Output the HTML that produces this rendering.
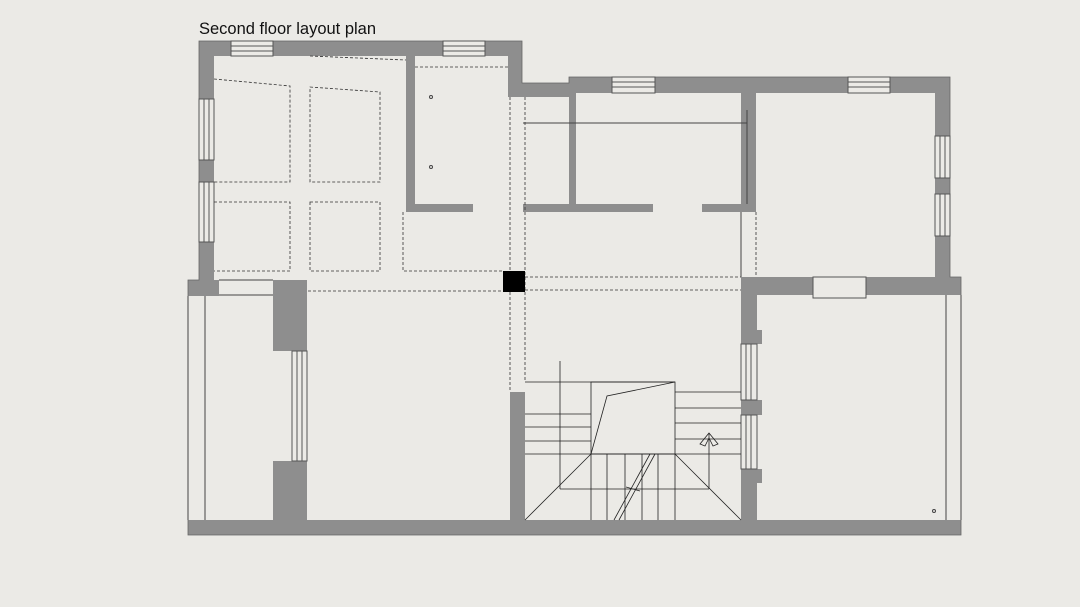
<!DOCTYPE html>
<html><head><meta charset="utf-8"><style>
html,body{margin:0;padding:0;background:#ebeae6;}
svg{display:block}
</style></head><body>
<svg width="1080" height="607" viewBox="0 0 1080 607" xmlns="http://www.w3.org/2000/svg">
<rect width="1080" height="607" fill="#ebeae6"/>
<text x="199" y="34" font-family="Liberation Sans, sans-serif" font-size="16.5" fill="#111">Second floor layout plan</text>
<g fill="#8e8e8e" stroke="none">
<rect x="199" y="41" width="323" height="15"/>
<rect x="199" y="41" width="15" height="58"/>
<rect x="199" y="160" width="15" height="22"/>
<rect x="199" y="242" width="15" height="38"/>
<rect x="188" y="280" width="31" height="16"/>
<rect x="508" y="41" width="14" height="56"/>
<rect x="508" y="83" width="62" height="14"/>
<rect x="569" y="77" width="381" height="16"/>
<rect x="406" y="56" width="9" height="156"/>
<rect x="406" y="204" width="67" height="8"/>
<rect x="569" y="93" width="7" height="119"/>
<rect x="523" y="204" width="130" height="8"/>
<rect x="702" y="204" width="54" height="8"/>
<rect x="741" y="77" width="15" height="135"/>
<rect x="935" y="77" width="15" height="200"/>
<rect x="741" y="277" width="220" height="18"/>
<rect x="741" y="277" width="16" height="243"/>
<rect x="757" y="330" width="5" height="14"/>
<rect x="741" y="400" width="21" height="15"/>
<rect x="757" y="469" width="5" height="14"/>
<rect x="946" y="277" width="15" height="18"/>
<rect x="273" y="280" width="34" height="71"/>
<rect x="273" y="461" width="34" height="59"/>
<rect x="510" y="392" width="15" height="128"/>
<rect x="188" y="520" width="773" height="15"/>
</g>
<g fill="none" stroke="#666" stroke-width="0.8">
<path d="M199 41 H522 V83 H569 V77 H950 V277 H961 V535 H188 V280 H199 Z"/>
</g>
<!-- windows -->
<g fill="#ebeae6" stroke="#555" stroke-width="1">
<rect x="231" y="41" width="42" height="15"/><line x1="231" y1="46" x2="273" y2="46"/><line x1="231" y1="51" x2="273" y2="51"/>
<rect x="443" y="41" width="42" height="15"/><line x1="443" y1="46" x2="485" y2="46"/><line x1="443" y1="51" x2="485" y2="51"/>
<rect x="612" y="77" width="43" height="16"/><line x1="612" y1="82" x2="655" y2="82"/><line x1="612" y1="87" x2="655" y2="87"/>
<rect x="848" y="77" width="42" height="16"/><line x1="848" y1="82" x2="890" y2="82"/><line x1="848" y1="87" x2="890" y2="87"/>
<rect x="199" y="99" width="15" height="61"/><line x1="204" y1="99" x2="204" y2="160"/><line x1="209" y1="99" x2="209" y2="160"/>
<rect x="199" y="182" width="15" height="60"/><line x1="204" y1="182" x2="204" y2="242"/><line x1="209" y1="182" x2="209" y2="242"/>
<rect x="935" y="136" width="15" height="42"/><line x1="940" y1="136" x2="940" y2="178"/><line x1="945" y1="136" x2="945" y2="178"/>
<rect x="935" y="194" width="15" height="42"/><line x1="940" y1="194" x2="940" y2="236"/><line x1="945" y1="194" x2="945" y2="236"/>
<rect x="741" y="344" width="16" height="56"/><line x1="746" y1="344" x2="746" y2="400"/><line x1="751" y1="344" x2="751" y2="400"/>
<rect x="741" y="415" width="16" height="54"/><line x1="746" y1="415" x2="746" y2="469"/><line x1="751" y1="415" x2="751" y2="469"/>
<rect x="292" y="351" width="15" height="110"/><line x1="297" y1="351" x2="297" y2="461"/><line x1="302" y1="351" x2="302" y2="461"/>
<rect x="813" y="277" width="53" height="21"/>
</g>
<!-- thin lines -->
<g stroke="#444" stroke-width="1" fill="none">
<line x1="219" y1="280" x2="273" y2="280"/><line x1="219" y1="295" x2="273" y2="295"/>
<line x1="188" y1="296" x2="188" y2="520"/><line x1="205" y1="296" x2="205" y2="520"/>
<line x1="523" y1="123" x2="747" y2="123"/>
<line x1="747" y1="110" x2="747" y2="204"/>
<line x1="741" y1="212" x2="741" y2="277"/>
<line x1="946" y1="295" x2="946" y2="520"/><line x1="961" y1="295" x2="961" y2="520"/>
<circle cx="431" cy="97" r="1.5"/><circle cx="431" cy="167" r="1.5"/><circle cx="934" cy="511" r="1.5"/>
</g>
<!-- dashed -->
<g stroke="#333" stroke-width="0.8" fill="none" stroke-dasharray="3,2">
<path d="M310 56 L406 60"/>
<line x1="415" y1="67" x2="508" y2="67"/>
<path d="M214 79 L290 86 L290 182 L214 182"/>
<path d="M310 87 L380 92 L380 182 L310 182 Z"/>
<path d="M214 202 L290 202 L290 271 L214 271"/>
<rect x="310" y="202" width="70" height="69"/>
<path d="M403 212 L403 271 L503 271"/>
<line x1="308" y1="291" x2="503" y2="291"/>
<line x1="510" y1="97" x2="510" y2="392"/><line x1="525" y1="97" x2="525" y2="382"/>
<line x1="525" y1="277" x2="741" y2="277"/><line x1="525" y1="290" x2="741" y2="290"/>
<line x1="756" y1="212" x2="756" y2="277"/>
</g>
<rect x="503" y="271" width="22" height="21" fill="#000"/>
<!-- stairs -->
<g stroke="#222" stroke-width="0.8" fill="none">
<line x1="525" y1="382" x2="675" y2="382"/>
<line x1="560" y1="361" x2="560" y2="489"/>
<rect x="591" y="382" width="84" height="72"/>
<path d="M675 382 L607 396 L591 454"/>
<line x1="525" y1="414" x2="591" y2="414"/><line x1="525" y1="427" x2="591" y2="427"/><line x1="525" y1="441" x2="591" y2="441"/>
<line x1="675" y1="392" x2="741" y2="392"/><line x1="675" y1="408" x2="741" y2="408"/><line x1="675" y1="423" x2="741" y2="423"/><line x1="675" y1="439" x2="741" y2="439"/>
<line x1="525" y1="454" x2="741" y2="454"/>
<line x1="607" y1="454" x2="607" y2="520"/><line x1="625" y1="454" x2="625" y2="520"/><line x1="642" y1="454" x2="642" y2="520"/><line x1="658" y1="454" x2="658" y2="520"/><line x1="591" y1="454" x2="591" y2="520"/><line x1="675" y1="454" x2="675" y2="520"/>
<line x1="560" y1="489" x2="709" y2="489"/>
<line x1="525" y1="520" x2="591" y2="454"/><line x1="675" y1="454" x2="741" y2="520"/>
<line x1="709" y1="433" x2="709" y2="489"/>
<path d="M709 433 L700 444 L705 446 L709 438 L713 446 L718 444 Z"/>
<line x1="614" y1="520" x2="650" y2="454"/><line x1="619" y1="520" x2="655" y2="454"/>
<path d="M626 487 L640 491"/>
</g>
</svg>
</body></html>
